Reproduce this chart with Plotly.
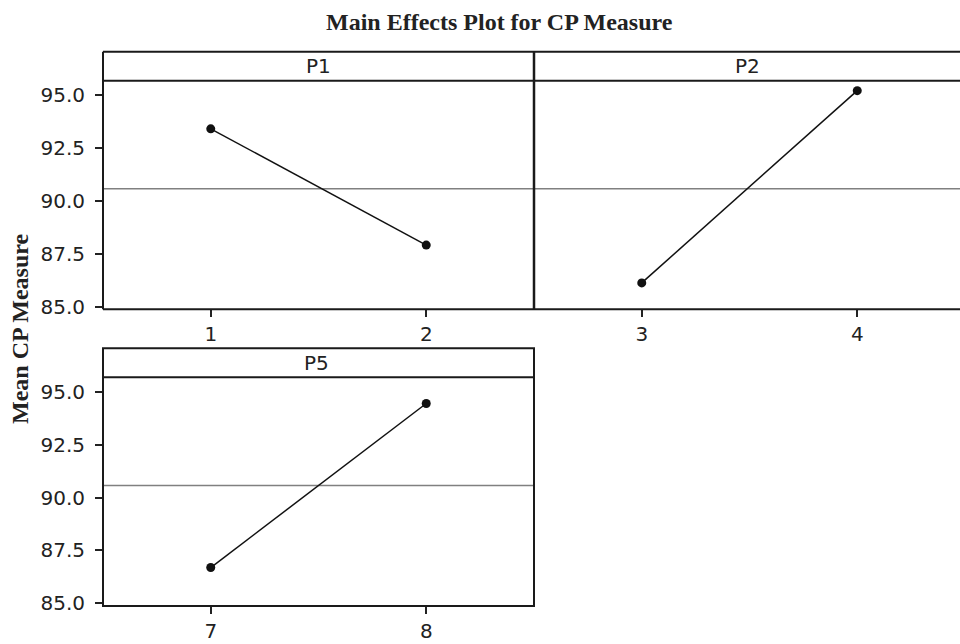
import plotly.graph_objects as go

# ---- data ----
panels = ["P1", "P2", "P5"]
p1_levels = [1, 2]
p1_means = [93.41, 87.91]
p2_levels = [3, 4]
p2_means = [86.12, 95.22]
p5_levels = [7, 8]
p5_means = [86.69, 94.45]
grand_mean = 90.57
y_ticks = [85.0, 87.5, 90.0, 92.5, 95.0]
y_tick_text = ["85.0", "87.5", "90.0", "92.5", "95.0"]

# The capture viewport is ~653px tall and is rescaled to 644; design in that space
K = 653 / 644
W, H = 960, 653
ML = 103

def px(x):
    return (x - ML) / (W - ML)

def py(y):
    return (H - y * K) / H

fig = go.Figure()

series = [(p1_levels, p1_means, "x", "y"),
          (p2_levels, p2_means, "x2", "y2"),
          (p5_levels, p5_means, "x3", "y3")]
for lv, mn, xa, ya in series:
    fig.add_trace(go.Scatter(x=lv, y=mn, xaxis=xa, yaxis=ya, mode="lines+markers",
                             line=dict(color="#111111", width=1.5),
                             marker=dict(color="#111111", size=9),
                             showlegend=False, hoverinfo="skip"))

tickfont = dict(family="DejaVu Sans", size=20, color="#222222")
yr = [84.87, 95.69]
top_dom = [py(309.3), py(80.7)]
bot_dom = [py(606), py(377.3)]
xsplit = px(534)

xcommon = dict(showgrid=False, zeroline=False, showline=False, ticks="outside",
               ticklen=7, tickwidth=1.5, tickcolor="#222222", tickfont=tickfont,
               ticklabelstandoff=0, fixedrange=True)
ycommon = dict(showgrid=False, zeroline=False, showline=False, range=yr,
               fixedrange=True)

fig.update_layout(
    width=W, height=H,
    margin=dict(l=ML, r=0, t=0, b=0),
    paper_bgcolor="white", plot_bgcolor="white",
    xaxis=dict(domain=[0, xsplit], range=[0.5, 2.5], tickvals=p1_levels,
               anchor="y", **xcommon),
    yaxis=dict(domain=top_dom, anchor="x", ticks="outside", ticklen=7, tickwidth=1.5,
               tickcolor="#222222", tickvals=y_ticks, ticktext=y_tick_text,
               tickfont=tickfont, ticklabelstandoff=6, **ycommon),
    xaxis2=dict(domain=[xsplit, 1], range=[2.5, 2.5 + 426 / 215.5], tickvals=p2_levels,
                anchor="y2", **xcommon),
    yaxis2=dict(domain=top_dom, anchor="x2", showticklabels=False, ticks="", **ycommon),
    xaxis3=dict(domain=[0, xsplit], range=[6.5, 8.5], tickvals=p5_levels,
                anchor="y3", **xcommon),
    yaxis3=dict(domain=bot_dom, anchor="x3", ticks="outside", ticklen=7, tickwidth=1.5,
                tickcolor="#222222", tickvals=y_ticks, ticktext=y_tick_text,
                tickfont=tickfont, ticklabelstandoff=6, **ycommon),
)

border = dict(color="#1a1a1a", width=2)
shapes = []
# top row frame
for yy in (51.7, 80.7, 309.3):
    shapes.append(dict(type="line", xref="paper", yref="paper", x0=0, x1=1.01,
                       y0=py(yy), y1=py(yy), line=border))
shapes.append(dict(type="line", xref="paper", yref="paper", x0=0, x1=0,
                   y0=py(309.3), y1=py(51.7), line=border))
shapes.append(dict(type="line", xref="paper", yref="paper", x0=xsplit, x1=xsplit,
                   y0=py(309.3), y1=py(51.7), line=dict(color="#1a1a1a", width=2.5)))
# bottom row frame
shapes.append(dict(type="rect", xref="paper", yref="paper", x0=0, x1=xsplit,
                   y0=py(606), y1=py(348.3), line=border))
shapes.append(dict(type="line", xref="paper", yref="paper", x0=0, x1=xsplit,
                   y0=py(377.3), y1=py(377.3), line=border))
# reference (grand mean) lines
for xa, ya in (("x", "y"), ("x2", "y2"), ("x3", "y3")):
    shapes.append(dict(type="line", xref=xa + " domain", yref=ya, x0=0,
                       x1=1.01 if xa == "x2" else 1,
                       y0=grand_mean, y1=grand_mean, line=dict(color="#808080", width=1.5),
                       layer="below"))
fig.update_layout(shapes=shapes)

hdr_font = dict(family="DejaVu Sans", size=20, color="#222222")
annotations = [
    dict(text="P1", x=px(318.5), y=py(66.2), xref="paper", yref="paper",
         showarrow=False, font=hdr_font, xanchor="center", yanchor="middle"),
    dict(text="P2", x=px(747), y=py(66.2), xref="paper", yref="paper",
         showarrow=False, font=hdr_font, xanchor="center", yanchor="middle"),
    dict(text="P5", x=px(316), y=py(362.8), xref="paper", yref="paper",
         showarrow=False, font=hdr_font, xanchor="center", yanchor="middle"),
    dict(text="<b>Main Effects Plot for CP Measure</b>", x=px(499), y=py(22),
         xref="paper", yref="paper", showarrow=False,
         font=dict(family="Liberation Serif", size=24, color="#222222"),
         xanchor="center", yanchor="middle"),
    dict(text="<b>Mean CP Measure</b>", x=px(20), y=py(329), xref="paper", yref="paper",
         showarrow=False, textangle=-90,
         font=dict(family="Liberation Serif", size=24, color="#222222"),
         xanchor="center", yanchor="middle"),
]
fig.update_layout(annotations=annotations)

fig.write_html("out.html", config={"displayModeBar": False},
               post_script="document.documentElement.style.margin='0';"
                           "document.body.style.margin='0';"
                           "document.documentElement.style.overflow='hidden';"
                           "document.body.style.overflow='hidden';")
